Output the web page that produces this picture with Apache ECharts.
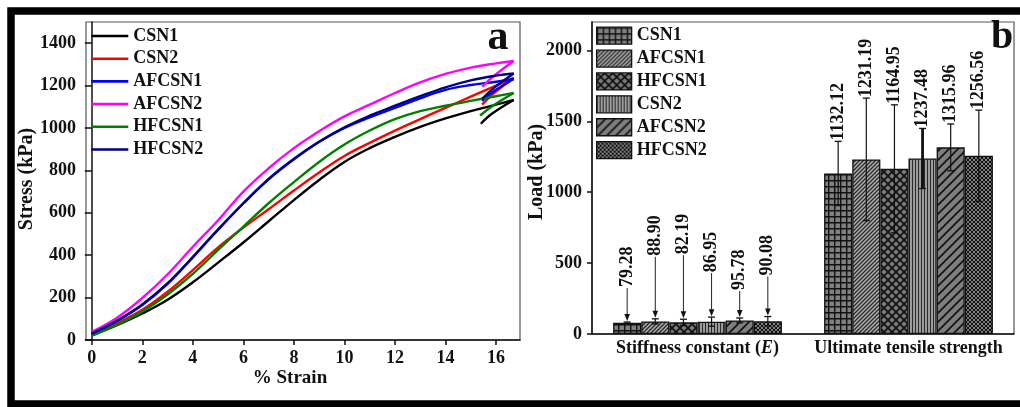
<!DOCTYPE html>
<html>
<head>
<meta charset="utf-8">
<script src="https://cdn.jsdelivr.net/npm/echarts@6/dist/echarts.min.js"></script>
<style>
  html, body { margin: 0; padding: 0; background: #fff; }
  #chart { width: 1020px; height: 407px; }
</style>
</head>
<body>
<div id="chart"></div>
<script>
// ---------- Panel a: stress vs. strain ----------
const strainPts = [0, 1, 2, 3, 4, 5, 6, 7, 8, 9, 10, 11, 12, 13, 14, 15, 16, 16.7];
const stressCSN1   = [22, 70, 125, 190, 272, 365, 460, 560, 660, 755, 840, 905, 958, 1005, 1045, 1080, 1110, 1132];
const stressCSN2   = [25, 80, 143, 228, 330, 437, 530, 617, 705, 790, 868, 930, 988, 1042, 1095, 1148, 1200, 1237];
const stressAFCSN1 = [28, 90, 165, 265, 390, 520, 645, 760, 855, 935, 1000, 1050, 1095, 1140, 1180, 1203, 1218, 1231];
const stressAFCSN2 = [38, 105, 198, 310, 440, 565, 700, 810, 905, 985, 1055, 1110, 1165, 1215, 1255, 1285, 1305, 1316];
const stressHFCSN1 = [20, 72, 135, 215, 312, 425, 535, 645, 745, 840, 922, 988, 1042, 1080, 1105, 1128, 1150, 1165];
const stressHFCSN2 = [30, 92, 168, 268, 392, 522, 645, 758, 852, 935, 1003, 1058, 1105, 1150, 1192, 1225, 1247, 1257];

// unloading tails after the peak [strain, stress]
const hookCSN1   = [[16.7, 1132], [15.85, 1068], [15.4, 1020]];
const hookCSN2   = [[16.7, 1237], [15.9, 1162], [15.45, 1110]];
const hookAFCSN1 = [[16.7, 1231], [15.9, 1172], [15.45, 1128]];
const hookAFCSN2 = [[16.7, 1316], [15.9, 1244], [15.46, 1195]];
const hookHFCSN1 = [[16.7, 1165], [15.85, 1103], [15.37, 1059]];
const hookHFCSN2 = [[16.7, 1257], [15.9, 1187], [15.45, 1137]];

const strainTicks = [0, 2, 4, 6, 8, 10, 12, 14, 16];
const stressTicks = [0, 200, 400, 600, 800, 1000, 1200, 1400];

// ---------- Panel b: grouped bars ----------
const groups = ['Stiffness constant (E)', 'Ultimate tensile strength'];
const samples = ['CSN1', 'AFCSN1', 'HFCSN1', 'CSN2', 'AFCSN2', 'HFCSN2'];
const stiffness    = [79.28, 88.90, 82.19, 86.95, 95.78, 90.08];
const stiffnessErr = [5, 18, 22, 32, 17, 33];
const uts          = [1132.12, 1231.19, 1164.95, 1237.48, 1315.96, 1256.56];
const utsErr       = [226, 432, 451, 212, 165, 322];
const loadTicks = [0, 500, 1000, 1500, 2000];

// ---------- styling ----------
const FONT = '"Liberation Serif", "Times New Roman", serif';
const INK = '#111';

const lineSeriesDefs = [
  { name: 'CSN1',   color: '#000000', pts: stressCSN1,   hook: hookCSN1 },
  { name: 'CSN2',   color: '#ff0000', pts: stressCSN2,   hook: hookCSN2 },
  { name: 'AFCSN1', color: '#0000ff', pts: stressAFCSN1, hook: hookAFCSN1 },
  { name: 'AFCSN2', color: '#ff00ff', pts: stressAFCSN2, hook: hookAFCSN2 },
  { name: 'HFCSN1', color: '#008000', pts: stressHFCSN1, hook: hookHFCSN1 },
  { name: 'HFCSN2', color: '#000080', pts: stressHFCSN2, hook: hookHFCSN2 }
];

// hatch fills for the bars
function tile(w, h, bg, draw) {
  const c = document.createElement('canvas');
  c.width = w; c.height = h;
  const g = c.getContext('2d');
  g.fillStyle = bg;
  g.fillRect(0, 0, w, h);
  g.strokeStyle = INK;
  draw(g, w, h);
  return { image: c, repeat: 'repeat' };
}
function diag(g, s) {            // "/" lines, seamless
  g.beginPath();
  g.moveTo(-1, s + 1); g.lineTo(s + 1, -1);
  g.moveTo(-1, 1); g.lineTo(1, -1);
  g.moveTo(s - 1, s + 1); g.lineTo(s + 1, s - 1);
  g.stroke();
}
function cross(g, s) {           // "X" lines, seamless
  diag(g, s);
  g.beginPath();
  g.moveTo(-1, -1); g.lineTo(s + 1, s + 1);
  g.moveTo(s - 1, -1); g.lineTo(s + 1, 1);
  g.moveTo(-1, s - 1); g.lineTo(1, s + 1);
  g.stroke();
}
const fills = [
  tile(6, 6, '#808080', (g) => { g.lineWidth = 1.4; g.beginPath(); g.moveTo(0.7, 0); g.lineTo(0.7, 6); g.moveTo(0, 0.7); g.lineTo(6, 0.7); g.stroke(); }),
  tile(4, 4, '#b0b0b0', (g, s) => { g.lineWidth = 1.3; g.strokeStyle = '#2a2a2a'; diag(g, s); }),
  tile(8, 8, '#7a7a7a', (g, s) => { g.lineWidth = 1.7; cross(g, s); }),
  tile(3, 3, '#9c9c9c', (g) => { g.lineWidth = 1; g.strokeStyle = '#2a2a2a'; g.beginPath(); g.moveTo(0.5, 0); g.lineTo(0.5, 3); g.stroke(); }),
  tile(9, 9, '#7e7e7e', (g, s) => { g.lineWidth = 1.6; diag(g, s); }),
  tile(4, 4, '#d0d0d0', (g, s) => { g.lineWidth = 1.25; cross(g, s); })
];

// ---------- series ----------
const series = [];
lineSeriesDefs.forEach((d) => {
  const common = {
    type: 'line', name: d.name, xAxisIndex: 0, yAxisIndex: 0,
    showSymbol: false, symbol: 'none', smooth: 0.4,
    lineStyle: { color: d.color, width: 2.4 }, itemStyle: { color: d.color },
    emphasis: { disabled: true }, z: 3
  };
  series.push(Object.assign({}, common, { data: strainPts.map((x, i) => [x, d.pts[i]]) }));
  series.push(Object.assign({}, common, { data: d.hook, smooth: 0.4 }));
});

samples.forEach((name, k) => {
  series.push({
    type: 'bar', name: name, xAxisIndex: 1, yAxisIndex: 1,
    data: [stiffness[k], uts[k]],
    barGap: '0%', barCategoryGap: '20%',
    itemStyle: { color: fills[k], borderColor: INK, borderWidth: 1.3 },
    emphasis: { disabled: true }
  });
});

// error bars with value annotations
const notes = [];
samples.forEach((name, k) => {
  notes.push([0, k, stiffness[k], stiffnessErr[k]]);
  notes.push([1, k, uts[k], utsErr[k]]);
});
const leaderLen = [33, 61, 63, 43, 26, 39];

function renderNote(params, api) {
  const cat = api.value(0), k = api.value(1), v = api.value(2), e = api.value(3);
  const band = api.size([1, 0])[0];
  const barW = band * 0.8 / samples.length;
  const cx = api.coord([cat, 0])[0] + (k - (samples.length - 1) / 2) * barW;
  const yHi = api.coord([cat, v + e])[1];
  const yLo = api.coord([cat, v - e])[1];
  const cap = 3.5;
  const stemW = (cat === 1 && k === 3) ? 2.8 : 1.2;
  const children = [
    { type: 'line', shape: { x1: cx, y1: yHi, x2: cx, y2: yLo }, style: { stroke: INK, lineWidth: stemW } },
    { type: 'line', shape: { x1: cx - cap, y1: yHi, x2: cx + cap, y2: yHi }, style: { stroke: INK, lineWidth: 1.3 } },
    { type: 'line', shape: { x1: cx - cap, y1: yLo, x2: cx + cap, y2: yLo }, style: { stroke: INK, lineWidth: 1.3 } }
  ];
  let textY;
  if (cat === 0) {
    const tip = yHi - 1;
    textY = tip - leaderLen[k];
    children.push({ type: 'line', shape: { x1: cx, y1: textY, x2: cx, y2: tip - 5 }, style: { stroke: '#222', lineWidth: 1 } });
    children.push({ type: 'polygon', shape: { points: [[cx - 2.8, tip - 7], [cx + 2.8, tip - 7], [cx, tip]] }, style: { fill: INK } });
  } else {
    textY = yHi;
  }
  children.push({
    type: 'text', x: cx, y: textY - 1, rotation: Math.PI / 2,
    style: { text: v.toFixed(2), font: 'bold 18px ' + FONT, fill: INK, align: 'left', verticalAlign: 'middle' }
  });
  return { type: 'group', children: children };
}

series.push({
  type: 'custom', xAxisIndex: 1, yAxisIndex: 1, data: notes,
  encode: { x: 0, y: 2 }, renderItem: renderNote, clip: false, z: 10, silent: true
});

// ---------- axes ----------
const plain = (v) => String(v);
const tickLabel = { color: INK, fontFamily: FONT, fontWeight: 'bold', fontSize: 18, formatter: plain };
const axisLine = { show: true, lineStyle: { color: INK, width: 1.5 } };

const option = {
  animation: false,
  backgroundColor: '#fff',
  grid: [
    { left: 86, right: 500, top: 22, bottom: 67, show: true, borderColor: '#555', borderWidth: 1.2, backgroundColor: 'transparent' },
    { left: 592, right: 6, top: 22, bottom: 73, show: true, borderColor: '#555', borderWidth: 1.2, backgroundColor: 'transparent' }
  ],
  xAxis: [
    {
      type: 'value', gridIndex: 0, min: -0.23, max: 16.95,
      axisLine: axisLine, splitLine: { show: false },
      axisTick: { show: true, length: 5, lineStyle: { color: INK, width: 1.5 }, customValues: strainTicks },
      axisLabel: Object.assign({ margin: 9, customValues: strainTicks }, tickLabel)
    },
    {
      type: 'category', gridIndex: 1, data: groups,
      axisLine: axisLine, axisTick: { show: false },
      axisLabel: {
        margin: 5, color: INK, interval: 0, hideOverlap: false,
        formatter: (val) => val.indexOf('(E)') >= 0 ? '{a|Stiffness constant (}{e|E}{a|)}' : '{a|' + val + '}',
        rich: {
          a: { fontFamily: FONT, fontWeight: 'bold', fontSize: 18, color: INK },
          e: { fontFamily: FONT, fontWeight: 'bold', fontStyle: 'italic', fontSize: 18, color: INK }
        }
      }
    }
  ],
  yAxis: [
    {
      type: 'value', gridIndex: 0, min: 0, max: 1500,
      axisLine: axisLine, splitLine: { show: false },
      axisTick: { show: true, length: 7, lineStyle: { color: INK, width: 1.5 }, customValues: stressTicks },
      axisLabel: Object.assign({ margin: 10, customValues: stressTicks }, tickLabel)
    },
    {
      type: 'value', gridIndex: 1, min: 0, max: 2200,
      axisLine: axisLine, splitLine: { show: false },
      axisTick: { show: true, length: 5, lineStyle: { color: INK, width: 1.5 }, customValues: loadTicks },
      axisLabel: Object.assign({ margin: 10, customValues: loadTicks }, tickLabel)
    }
  ],
  legend: [
    {
      data: lineSeriesDefs.map((d) => d.name),
      orient: 'vertical', left: 90, top: 27, padding: 0,
      itemWidth: 37, itemHeight: 18, itemGap: 4.7,
      itemStyle: { opacity: 0, borderWidth: 0 },
      lineStyle: { width: 2.6 },
      textStyle: { fontFamily: FONT, fontWeight: 'bold', fontSize: 18, color: INK, lineHeight: 18 },
      selectedMode: false
    },
    {
      data: samples.map((name, k) => ({
        name: name, icon: 'rect',
        itemStyle: { color: fills[k], borderColor: INK, borderWidth: 1.3, opacity: 1 }
      })),
      orient: 'vertical', left: 596, top: 26.5, padding: 0,
      itemWidth: 35, itemHeight: 17, itemGap: 4.6,
      textStyle: { fontFamily: FONT, fontWeight: 'bold', fontSize: 18, color: INK, lineHeight: 18 },
      selectedMode: false
    }
  ],
  graphic: [
    { type: 'rect', shape: { x: 11, y: 11, width: 1030, height: 393 }, style: { fill: 'none', stroke: '#000', lineWidth: 7.5 }, silent: true, z: 100 },
    { type: 'text', x: 27, y: 179, rotation: Math.PI / 2, style: { text: 'Stress (kPa)', font: 'bold 20px ' + FONT, fill: INK, align: 'center', verticalAlign: 'middle' } },
    { type: 'text', x: 290, y: 378, style: { text: '% Strain', font: 'bold 19px ' + FONT, fill: INK, align: 'center', verticalAlign: 'middle' } },
    { type: 'text', x: 537, y: 172, rotation: Math.PI / 2, style: { text: 'Load (kPa)', font: 'bold 20px ' + FONT, fill: INK, align: 'center', verticalAlign: 'middle' } },
    { type: 'text', x: 498, y: 38, style: { text: 'a', font: 'bold 42px ' + FONT, fill: INK, align: 'center', verticalAlign: 'middle' } },
    { type: 'text', x: 1002, y: 38, style: { text: 'b', font: 'bold 40px ' + FONT, fill: INK, align: 'center', verticalAlign: 'middle' } }
  ],
  series: series
};

const chart = echarts.init(document.getElementById('chart'), null, { renderer: 'canvas' });
chart.setOption(option);
</script>
</body>
</html>
